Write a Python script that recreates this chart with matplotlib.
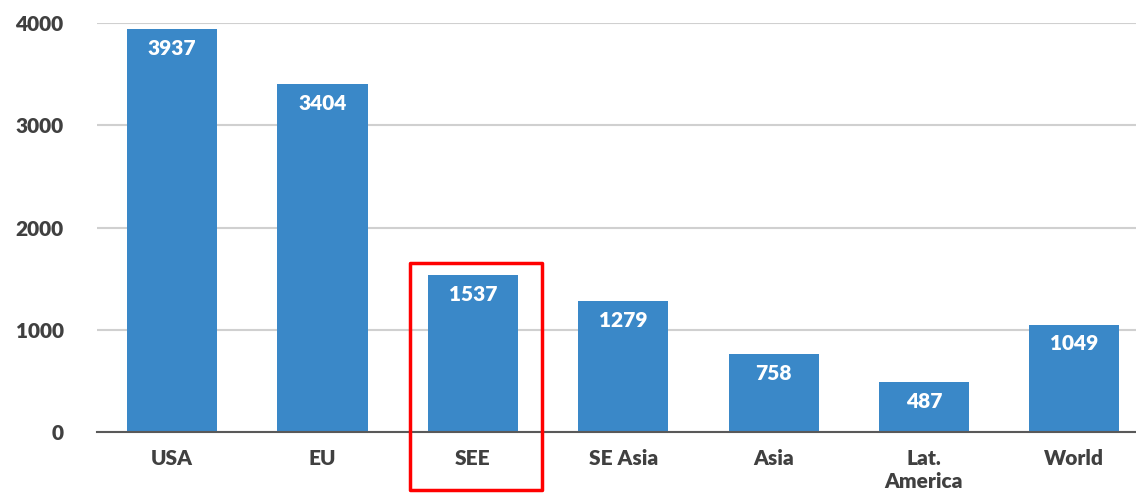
import matplotlib
matplotlib.use("Agg")
import matplotlib.pyplot as plt
from matplotlib.patches import Rectangle

categories = ["USA", "EU", "SEE", "SE Asia", "Asia", "Lat.\nAmerica", "World"]
values = [3937, 3404, 1537, 1279, 758, 487, 1049]
yticks = [0, 1000, 2000, 3000, 4000]
highlight = "SEE"

plt.rcParams['font.family'] = ['Lato', 'DejaVu Sans']
BAR = '#3a88c8'
TXT = '#404040'

fig = plt.figure(figsize=(11.36, 4.95), dpi=100)
ax = fig.add_axes([0.0854, 0.1273, 0.9146, 0.8262])

x = list(range(len(categories)))
bars = ax.bar(x, values, width=0.6, color=BAR, zorder=3)

ax.set_xlim(-0.5, 6.41)
ax.set_ylim(0, 4000)
ax.set_yticks(yticks)
ax.set_yticklabels([str(t) for t in yticks], fontsize=15, fontweight='heavy', color=TXT)
ax.set_xticks(x)
ax.set_xticklabels(categories, fontsize=15, fontweight='heavy', color=TXT, linespacing=1.25)
ax.tick_params(axis='y', length=0, pad=24)
ax.tick_params(axis='x', length=0, pad=12)
ax.grid(axis='y', color='#d0d0d0', lw=1.5, zorder=0)

for s in ['top', 'right', 'left']:
    ax.spines[s].set_visible(False)
ax.spines['bottom'].set_color('#595959')
ax.spines['bottom'].set_linewidth(1.5)
ax.spines['bottom'].set_zorder(4)

for b, v in zip(bars, values):
    ax.annotate(str(v), (b.get_x() + b.get_width() / 2, v), xytext=(0, -7),
                textcoords='offset points', ha='center', va='top',
                fontsize=15, fontweight='heavy', color='white', zorder=5)

# highlight box around SEE
i = categories.index(highlight)
rect = Rectangle((i - 0.42, -570), 0.88, 2220, fill=False, edgecolor='#ff0000',
                 lw=2.5, clip_on=False, zorder=6, joinstyle='round')
ax.add_patch(rect)

fig.savefig("out.png", dpi=100)
